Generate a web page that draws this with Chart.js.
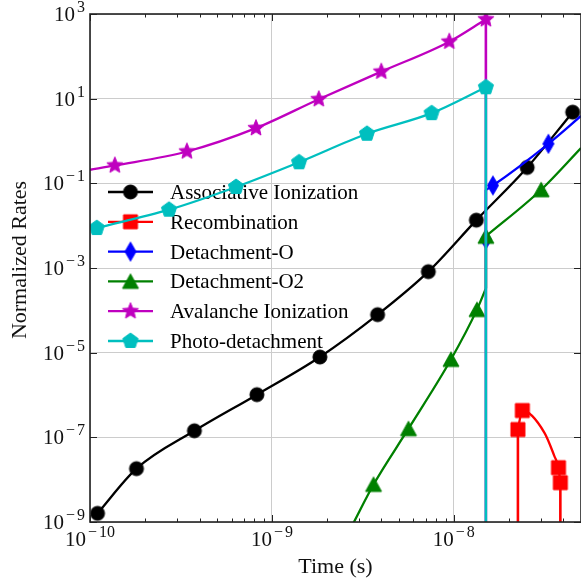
<!DOCTYPE html>
<html>
<head>
<meta charset="utf-8">
<script src="https://cdn.jsdelivr.net/npm/chart.js@4.4.1/dist/chart.umd.min.js"></script>
<style>
  html, body { margin: 0; padding: 0; overflow: hidden; background: #fff; }
  #wrap { width: 581px; height: 585px; }
</style>
</head>
<body>
<div id="wrap"><canvas id="rates" width="581" height="585"></canvas></div>
<script>
// values (time in s, normalized rate)
const cutoff = 1.5e-8;      // time where several rates jump
const offAxis = 1e-10;      // value below the visible range (vertical drops)

const assocTime = [1.10e-10, 1.80e-10, 3.75e-10, 8.27e-10, 1.835e-9, 3.81e-9, 7.24e-9, 1.33e-8, 2.53e-8, 4.50e-8];
const assocRate = [1.6e-9, 1.82e-8, 1.43e-7, 1.02e-6, 7.9e-6, 7.9e-5, 8.2e-4, 1.35e-2, 0.237, 4.8];
const assocMark = [1, 1, 1, 1, 1, 1, 1, 1, 1, 1];

const recombTime = [2.25e-8, 2.25e-8, 2.38e-8, 3.15e-8, 3.57e-8, 3.76e-8, 3.85e-8, 3.85e-8];
const recombRate = [offAxis, 1.53e-7, 4.3e-7, 1.28e-7, 3.6e-8, 1.92e-8, 8.5e-9, offAxis];
const recombMark = [0, 1, 1, 0, 0, 1, 1, 0];

const detOTime = [cutoff, cutoff, 1.64e-8, 3.31e-8, 5e-8];
const detORate = [4.7e-3, 7.0e-2, 8.9e-2, 0.86, 3.9];
const detOMark = [1, 0, 1, 1, 0];

const detO2Time = [2.75e-9, 3.62e-9, 5.63e-9, 9.64e-9, 1.34e-8, cutoff, cutoff, 3.02e-8, 5e-8];
const detO2Rate = [8e-10, 7.7e-9, 1.6e-7, 6.9e-6, 1.04e-4, 3.3e-4, 5.6e-3, 7.05e-2, 0.68];
const detO2Mark = [0, 1, 1, 1, 1, 0, 1, 1, 0];

const avalTime = [1e-10, 1.37e-10, 3.41e-10, 8.17e-10, 1.81e-9, 3.99e-9, 9.44e-9, cutoff, cutoff];
const avalRate = [0.209, 0.264, 0.565, 2.01, 9.7, 43.5, 222, 750, offAxis];
const avalMark = [0, 1, 1, 1, 1, 1, 1, 1, 0];

const photoTime = [1.09e-10, 2.72e-10, 6.35e-10, 1.41e-9, 3.33e-9, 7.55e-9, cutoff, cutoff];
const photoRate = [8.8e-3, 2.38e-2, 8.2e-2, 0.314, 1.48, 4.54, 18.6, offAxis];
const photoMark = [1, 1, 1, 1, 1, 1, 1, 0];

const seriesLabels = ['Associative Ionization', 'Recombination', 'Detachment-O', 'Detachment-O2', 'Avalanche Ionization', 'Photo-detachment'];
const seriesColors = ['#000000', '#ff0000', '#0000ff', '#008000', '#bf00bf', '#00bfbf'];
const seriesShapes = ['circle', 'square', 'thinDiamond', 'triangle', 'star', 'pentagon'];

const xMajor = [1e-10, 1e-9, 1e-8];
const yMajor = [1e-9, 1e-7, 1e-5, 1e-3, 1e-1, 1e1, 1e3];

const serif = '"Liberation Serif", "DejaVu Serif", serif';

// marker images (matplotlib-like shapes)
function markerCanvas(shape, color) {
  const c = document.createElement('canvas');
  c.width = 24; c.height = 24;
  const g = c.getContext('2d');
  g.fillStyle = color; g.strokeStyle = color; g.lineWidth = 1;
  g.beginPath();
  if (shape === 'circle') {
    g.arc(12, 12, 7, 0, Math.PI * 2);
  } else if (shape === 'square') {
    g.rect(5, 5, 14, 14);
  } else if (shape === 'thinDiamond') {
    g.moveTo(12, 2.5); g.lineTo(17.5, 12); g.lineTo(12, 21.5); g.lineTo(6.5, 12);
  } else if (shape === 'triangle') {
    g.moveTo(12, 4.5); g.lineTo(20, 19); g.lineTo(4, 19);
  } else if (shape === 'star') {
    for (let i = 0; i < 10; i++) {
      const r = i % 2 ? 3.8 : 8.5;
      const a = -Math.PI / 2 + i * Math.PI / 5;
      g.lineTo(12 + r * Math.cos(a), 12 + r * Math.sin(a));
    }
  } else if (shape === 'pentagon') {
    for (let i = 0; i < 5; i++) {
      const a = -Math.PI / 2 + i * 2 * Math.PI / 5;
      g.lineTo(12 + 8 * Math.cos(a), 12 + 8 * Math.sin(a));
    }
  }
  g.closePath();
  g.fill(); g.stroke();
  return c;
}
const markers = seriesShapes.map((s, i) => markerCanvas(s, seriesColors[i]));

// one series -> smooth pieces, straight vertical jumps, and a marker layer
function buildSeries(idx, xs, ys, marks) {
  const color = seriesColors[idx];
  const base = (6 - idx) * 10;
  const out = [];
  const lineDs = (pts, smooth) => ({
    type: 'line', data: pts, borderColor: color, borderWidth: smooth ? 2.3 : 2.6, pointRadius: 0,
    fill: false, tension: smooth ? 0.4 : 0, cubicInterpolationMode: smooth ? 'monotone' : 'default',
    borderJoinStyle: 'round', order: base
  });
  let piece = [];
  for (let i = 0; i < xs.length; i++) {
    if (i > 0 && xs[i] === xs[i - 1]) {
      if (piece.length > 1) out.push(lineDs(piece, true));
      out.push(lineDs([{x: xs[i - 1], y: ys[i - 1]}, {x: xs[i], y: ys[i]}], false));
      piece = [];
    }
    piece.push({x: xs[i], y: ys[i]});
  }
  if (piece.length > 1) out.push(lineDs(piece, true));
  out.push({
    type: 'line', showLine: false, order: base - 1,
    data: xs.map((x, i) => ({x: x, y: ys[i]})).filter((p, i) => marks[i]),
    pointStyle: markers[idx], pointRadius: 8, pointHoverRadius: 8
  });
  return out;
}

const datasets = [].concat(
  buildSeries(0, assocTime, assocRate, assocMark),
  buildSeries(1, recombTime, recombRate, recombMark),
  buildSeries(2, detOTime, detORate, detOMark),
  buildSeries(3, detO2Time, detO2Rate, detO2Mark),
  buildSeries(4, avalTime, avalRate, avalMark),
  buildSeries(5, photoTime, photoRate, photoMark)
);

function drawPow(ctx, exp, x, baseline, align) {
  const baseTxt = '10';
  const sign = exp < 0 ? '\u2212' : '';
  const digits = String(Math.abs(exp));
  ctx.font = '21px ' + serif;
  const wb = ctx.measureText(baseTxt).width;
  ctx.font = '16px ' + serif;
  const ws = sign ? ctx.measureText(sign).width + 2 : 0;
  const wd = ctx.measureText(digits).width;
  const total = wb + 2 + ws + wd;
  let sx = align === 'center' ? x - total / 2 : x - total;
  ctx.textAlign = 'left';
  ctx.textBaseline = 'alphabetic';
  ctx.font = '21px ' + serif;
  ctx.fillText(baseTxt, sx, baseline);
  ctx.font = '16px ' + serif;
  sx += wb + 2;
  if (sign) { ctx.fillText(sign, sx, baseline - 9); sx += ws; }
  ctx.fillText(digits, sx, baseline - 9);
}

const decorations = {
  id: 'decorations',
  beforeDatasetsDraw(chart) {
    const ctx = chart.ctx;
    ctx.save();
    seriesLabels.forEach((label, i) => {
      const cy = 192 + i * 29.8;
      ctx.strokeStyle = seriesColors[i];
      ctx.lineWidth = 2.3;
      ctx.beginPath(); ctx.moveTo(108, cy); ctx.lineTo(153, cy); ctx.stroke();
      ctx.drawImage(markers[i], 130.5 - 12, cy - 12);
      ctx.fillStyle = '#000';
      ctx.font = '21px ' + serif;
      ctx.textAlign = 'left';
      ctx.textBaseline = 'alphabetic';
      ctx.fillText(label, 170, cy + 7);
    });
    ctx.restore();
  },
  afterDraw(chart) {
    const ctx = chart.ctx, a = chart.chartArea;
    const xs = chart.scales.x, ys = chart.scales.y;
    ctx.save();
    ctx.strokeStyle = '#222';
    ctx.lineWidth = 1;
    ctx.beginPath();
    xMajor.forEach(v => {
      const px = Math.round(xs.getPixelForValue(v)) + 0.5;
      ctx.moveTo(px, a.bottom); ctx.lineTo(px, a.bottom - 7);
      ctx.moveTo(px, a.top); ctx.lineTo(px, a.top + 7);
    });
    for (let e = -10; e <= -8; e++) {
      for (let k = 2; k <= 9; k++) {
        const v = k * Math.pow(10, e);
        if (v >= xs.max) continue;
        const px = Math.round(xs.getPixelForValue(v)) + 0.5;
        ctx.moveTo(px, a.bottom); ctx.lineTo(px, a.bottom - 3.5);
        ctx.moveTo(px, a.top); ctx.lineTo(px, a.top + 3.5);
      }
    }
    yMajor.forEach(v => {
      const py = Math.round(ys.getPixelForValue(v)) + 0.5;
      ctx.moveTo(a.left, py); ctx.lineTo(a.left + 7, py);
      ctx.moveTo(a.right, py); ctx.lineTo(a.right - 7, py);
    });
    ctx.stroke();
    ctx.lineWidth = 1.6;
    ctx.strokeRect(a.left, a.top, a.right - a.left, a.bottom - a.top);

    ctx.fillStyle = '#111';
    xMajor.forEach(v => drawPow(ctx, Math.round(Math.log10(v)), xs.getPixelForValue(v), 546, 'center'));
    yMajor.forEach(v => drawPow(ctx, Math.round(Math.log10(v)), 85, ys.getPixelForValue(v) + 7, 'right'));

    ctx.font = '22px ' + serif;
    ctx.textAlign = 'center';
    ctx.textBaseline = 'alphabetic';
    ctx.fillText('Time (s)', (a.left + a.right) / 2, 573);
    ctx.translate(26, 260);
    ctx.rotate(-Math.PI / 2);
    ctx.fillText('Normalized Rates', 0, 0);
    ctx.restore();
  }
};

new Chart(document.getElementById('rates'), {
  type: 'line',
  data: { datasets: datasets },
  options: {
    responsive: false,
    animation: false,
    events: [],
    devicePixelRatio: 1,
    // the right spine sits just past the window edge in the reference
    layout: { autoPadding: false, padding: { top: 14, right: -2, left: 0, bottom: 0 } },
    plugins: { legend: { display: false }, tooltip: { enabled: false } },
    scales: {
      x: {
        type: 'logarithmic', min: 1e-10, max: 5e-8,
        afterBuildTicks: s => { s.ticks = xMajor.map(v => ({value: v})); },
        afterFit: s => { s.height = 63; },
        ticks: { display: false },
        grid: { color: '#cccccc', lineWidth: 1, drawTicks: false },
        border: { display: false }
      },
      y: {
        type: 'logarithmic', min: 1e-9, max: 1e3,
        afterBuildTicks: s => { s.ticks = yMajor.map(v => ({value: v})); },
        afterFit: s => { s.width = 90; },
        ticks: { display: false },
        grid: { color: '#cccccc', lineWidth: 1, drawTicks: false },
        border: { display: false }
      }
    }
  },
  plugins: [decorations]
});
</script>
</body>
</html>
